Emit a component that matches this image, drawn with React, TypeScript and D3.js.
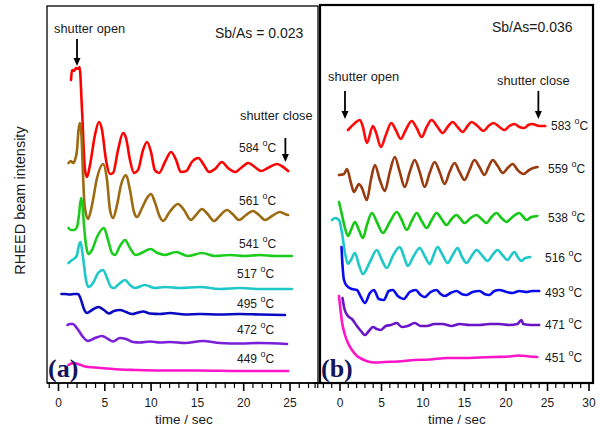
import React from 'react';
import * as d3 from 'd3';

type P = [number, number];

// ---------- tick labels ----------
const leftTickLabels = [0, 5, 10, 15, 20, 25];
const rightTickLabels = [0, 5, 10, 15, 20, 25, 30];

// ---------- panel (a): Sb/As = 0.023 ----------
const tempsA = ['584', '561', '541', '517', '495', '472', '449'];
const a584: P[] = [[1.35,303],[1.46,313],[1.67,312],[1.89,315],[2.11,314],[2.27,316],[2.54,273],[2.86,213],[3.08,206],[3.4,218],[3.94,248],[4.37,261],[4.7,253],[5.13,223],[5.56,209],[5.89,210],[6.43,233],[6.97,250],[7.29,245],[7.72,223],[8.15,210],[8.59,213],[9.13,233],[9.56,241],[9.99,231],[10.4,213],[10.85,210],[11.5,221],[12.15,231],[12.7,223],[13.2,211],[13.8,212],[14.4,221],[15.1,225],[15.7,218],[16.25,211],[16.9,214],[17.65,221],[18.3,215],[19.1,211],[19.7,215],[20.5,220],[21.2,216],[21.9,212],[22.6,215],[23.6,219],[24.1,217],[24.8,212]];
const a561: P[] = [[1.08,220],[1.35,222],[1.57,220],[1.78,223],[2.0,233],[2.16,253],[2.32,260],[2.48,248],[2.65,208],[2.81,178],[3.19,164],[3.62,178],[4.16,205],[4.81,219],[5.24,203],[5.56,173],[5.89,165],[6.32,178],[6.75,198],[7.29,208],[7.72,193],[8.15,171],[8.48,166],[9.02,175],[9.56,185],[9.99,189],[10.4,181],[10.95,166],[11.3,162],[12.0,171],[12.9,179],[13.55,173],[14.3,163],[14.85,168],[15.5,174],[16.1,169],[16.8,162],[17.4,167],[18.2,173],[18.8,169],[19.5,163],[20.25,168],[21.0,172],[21.65,168],[22.3,163],[23.05,167],[23.9,171],[24.45,169],[24.8,168]];
const a541: P[] = [[1.08,155],[1.35,153],[1.67,153],[2.0,156],[2.21,168],[2.43,185],[2.59,178],[2.75,158],[2.97,138],[3.24,129],[3.62,133],[4.16,146],[4.91,155],[5.35,143],[5.78,130],[6.1,128],[6.64,137],[7.18,143],[7.72,135],[8.32,128],[8.97,130],[9.94,134],[10.7,130],[11.45,128],[12.7,131],[13.98,127],[15.5,130],[16.9,127],[18.5,128],[20.1,127],[21.75,128],[23.4,127],[25.2,127]];
const a517: P[] = [[1.08,120],[1.46,123],[1.78,125],[2.0,128],[2.21,138],[2.38,141],[2.54,133],[2.75,118],[2.97,103],[3.24,96],[3.73,100],[4.27,110],[4.81,113],[5.24,105],[5.67,96],[5.99,95],[6.53,99],[7.18,103],[7.72,98],[8.26,95],[9.34,98],[10.4,95],[11.5,96],[13.1,95],[15.3,96],[17.4,94],[19.6,95],[21.8,94],[25.2,94]];
const a495: P[] = [[0.32,89],[0.7,89],[1.24,88.5],[1.67,89],[2.11,89],[2.32,86],[2.54,80],[2.75,74],[3.08,70],[3.62,73],[4.32,76],[4.91,73],[5.45,69.5],[5.99,72],[6.64,73],[7.29,71],[7.94,69],[8.59,70.5],[9.13,71.5],[9.88,69.5],[10.96,69],[12.04,70],[13.66,68.5],[15.28,69],[17.44,68.5],[19.6,69],[21.76,68.5],[24.46,68]];
const a472: P[] = [[0.97,58],[1.24,59],[1.57,59],[1.89,56],[2.21,52],[2.65,46],[3.19,42],[3.94,45],[4.7,47],[5.35,44],[5.89,41.5],[6.64,45],[7.29,44],[8.05,41],[8.8,40.5],[9.88,41.5],[10.96,40.5],[12.04,41],[13.66,40],[15.6,42],[17.44,40],[19.6,39.5],[21.76,40],[24.68,39]];
const a449: P[] = [[1.08,18],[1.57,20],[2.11,19],[2.86,16.5],[3.94,15.5],[5.24,14.5],[6.64,13.5],[8.26,13],[10.96,12.5],[15.28,12.5],[19.6,12],[24.8,12]];

// ---------- panel (b): Sb/As = 0.036 ----------
const tempsB = ['583', '559', '538', '516', '493', '471', '451'];
const b583: P[] = [[0.96,253],[1.68,259],[2.4,263],[2.76,256],[3.24,240],[3.96,257],[4.32,251],[4.92,236],[5.52,248],[6.18,260],[6.72,253],[7.32,244],[7.92,253],[8.64,262],[9.24,255],[9.84,246],[10.44,256],[11.04,263],[11.76,256],[12.36,250],[12.96,256],[13.57,261],[14.17,256],[14.77,251],[15.37,257],[15.85,261],[16.57,257],[17.29,252],[17.89,257],[18.49,260],[19.21,256],[19.81,253],[20.41,257],[21.0,259],[21.6,256],[22.2,255],[22.69,258],[23.17,259],[24.0,257],[24.73,257]];
const b559: P[] = [[-0.12,208],[0.48,209],[0.84,214],[1.32,200],[1.68,191],[2.28,199],[2.64,195],[3.24,183],[3.72,203],[4.2,218],[4.8,203],[5.4,192],[6.0,211],[6.6,226],[7.2,211],[7.8,196],[8.4,211],[9.0,223],[9.6,211],[10.2,196],[10.8,210],[11.4,221],[12.0,211],[12.6,199],[13.2,211],[13.8,220],[14.4,211],[15.0,203],[15.6,213],[16.2,223],[16.8,216],[17.4,208],[17.9,216],[18.4,223],[19.0,217],[19.6,210],[20.2,215],[20.8,219],[21.4,213],[22.1,209],[22.8,213],[23.3,215],[23.8,216]];
const b538: P[] = [[-0.12,181],[0.24,168],[0.6,155],[0.96,147],[1.32,153],[1.8,161],[2.28,153],[2.76,145],[3.24,158],[3.84,170],[4.44,161],[5.16,150],[6.0,161],[6.84,171],[7.44,163],[8.04,153],[8.64,162],[9.24,170],[9.84,162],[10.44,155],[11.04,163],[11.64,170],[12.24,164],[12.84,158],[13.44,164],[14.04,168],[14.53,164],[15.0,160],[15.73,165],[16.45,168],[17.05,164],[17.65,160],[18.25,166],[18.85,170],[19.45,165],[20.05,161],[20.77,166],[21.6,170],[22.09,166],[22.45,163],[23.05,166],[23.77,167]];
const b516: P[] = [[-0.96,163],[-0.6,165],[-0.12,163],[0.24,150],[0.6,130],[0.96,119],[1.32,123],[1.8,130],[2.28,118],[2.76,109],[3.6,121],[4.44,133],[5.04,123],[5.64,115],[6.36,127],[7.2,136],[7.68,127],[8.16,117],[8.88,127],[9.6,135],[10.2,127],[10.8,119],[11.28,128],[11.76,136],[12.36,128],[12.96,120],[13.57,128],[14.17,135],[14.65,127],[15.25,120],[15.85,127],[16.45,133],[17.17,127],[17.77,122],[18.37,128],[18.97,133],[19.57,128],[20.17,123],[20.65,128],[21.0,131],[21.49,125],[21.85,122],[22.33,125],[22.93,126]];
const b493: P[] = [[0.18,136],[0.3,118],[0.48,103],[0.84,97],[1.44,94],[2.04,93],[2.52,86],[3.0,80],[3.6,90],[4.08,93],[4.68,84],[5.28,83],[5.88,92],[6.36,93],[6.96,87],[7.68,84],[8.4,91],[9.12,93],[9.72,88],[10.2,86],[10.92,91],[11.64,93],[12.12,89],[12.6,87],[13.32,90],[14.04,92],[14.65,89],[15.25,88],[15.97,91],[16.8,92],[17.4,89],[18.0,88],[18.6,92],[19.2,93],[20.05,91],[20.77,90],[21.6,92],[22.45,91],[23.17,92],[24.0,92]];
const b471: P[] = [[0.3,85],[0.54,74],[0.96,67],[1.44,64],[2.04,57],[2.52,52],[3.0,48],[3.48,52],[3.96,56],[4.44,54],[4.92,53],[5.52,57],[6.12,58],[6.84,60],[7.44,56],[8.16,57],[9.0,60],[9.72,57],[10.44,57],[11.4,59],[12.36,59],[13.44,57],[14.4,59],[15.6,58],[16.8,58],[18.0,59],[19.2,59],[20.4,58],[21.37,59],[21.85,63],[22.09,59],[23.05,58],[24.0,58]];
const b451: P[] = [[-0.12,87],[0.06,73],[0.24,61],[0.6,48],[0.96,40],[1.44,33],[2.04,27],[2.64,24],[3.36,21.5],[4.2,20.5],[5.4,21],[6.96,21.5],[9.0,23],[10.8,23.5],[12.96,25],[15.0,25],[16.8,25.5],[18.6,26],[20.4,26.5],[21.6,27.5],[22.8,26.5],[23.76,26]];

// shutter times (s)
const shutterA = { open: 2.0, close: 24.5 };
const shutterB = { open: 0.6, close: 23.9 };

// ---------- styles ----------
const colorsA = ['#ff0000', '#9c6a10', '#1ccc1c', '#1ec8c8', '#0a0ac0', '#7a1ed8', '#ff14c8'];
const colorsB = ['#ff0a0a', '#9a3a10', '#14c814', '#1ec8c8', '#0a0aee', '#6a14c8', '#ff14c8'];
const seriesA = [a584, a561, a541, a517, a495, a472, a449];
const seriesB = [b583, b559, b538, b516, b493, b471, b451];
const labelPosA: [number, number][] = [[239, 152], [239, 205], [239, 248], [237, 278], [237, 308], [237, 334], [237, 363]];
const labelPosB: [number, number][] = [[551, 130], [548, 173], [548, 222], [545, 262], [545, 297], [545, 329], [545, 362]];

const SANS = '"Liberation Sans", Arial, sans-serif';
const SERIF = '"Liberation Serif", "Times New Roman", serif';
const TXT = '#1a1a1a';

const yScale = d3.scaleLinear().domain([0, 377]).range([383, 6]);

function Arrow({ x, y1, y2 }: { x: number; y1: number; y2: number }) {
  return (
    <g>
      <line x1={x} x2={x} y1={y1} y2={y2 - 7} stroke="#000" strokeWidth={1.8} />
      <path d={`M${x - 3.5},${y2 - 8} L${x + 3.5},${y2 - 8} L${x},${y2} Z`} fill="#000" />
    </g>
  );
}

function Temp({ x, y, t }: { x: number; y: number; t: string }) {
  return (
    <text x={x} y={y} fontFamily={SANS} fontSize={12} fill={TXT}>
      {t}
      <tspan dx={3.5} dy={-6} fontSize={9}>o</tspan>
      <tspan dy={6} fontSize={12}>C</tspan>
    </text>
  );
}

function Panel({
  xs, series, colors, temps, labelPos, tickLabels, minorFrom, minorTo,
  frame, frameW, axisX0, axisX1,
}: any) {
  const line = d3
    .line<P>()
    .x((d) => xs(d[0]))
    .y((d) => yScale(d[1]))
    .curve(d3.curveMonotoneX);
  const minors = d3.range(minorFrom, minorTo + 1);
  return (
    <g>
      {series.map((s: P[], i: number) => (
        <path key={i} d={line(s) || ''} fill="none" stroke={colors[i]} strokeWidth={2.6}
          strokeLinejoin="round" strokeLinecap="round" />
      ))}
      {temps.map((t: string, i: number) => (
        <Temp key={t} x={labelPos[i][0]} y={labelPos[i][1]} t={t} />
      ))}
      <rect x={frame[0]} y={frame[1]} width={frame[2] - frame[0]} height={frame[3] - frame[1]}
        fill="none" stroke="#000" strokeWidth={frameW} />
      <line x1={axisX0} x2={axisX1} y1={383} y2={383} stroke="#000" strokeWidth={1.6} />
      {minors.map((m: number) => {
        const major = m % 5 === 0;
        return (
          <line key={m} x1={xs(m)} x2={xs(m)} y1={383} y2={major ? 391 : 388}
            stroke="#000" strokeWidth={major ? 1.6 : 1.2} />
        );
      })}
      {tickLabels.map((v: number) => (
        <text key={v} x={xs(v)} y={407} textAnchor="middle" fontFamily={SANS} fontSize={12} fill={TXT}>
          {v}
        </text>
      ))}
    </g>
  );
}

export default function App() {
  const xA = d3.scaleLinear().domain([0, 25]).range([58.5, 290]);
  const xB = d3.scaleLinear().domain([0, 30]).range([340, 589]);
  return (
    <svg width={599} height={427} style={{ position: 'absolute', left: 0, top: 0, background: '#fff' }}>
      <rect width={599} height={427} fill="#fff" />
      <Panel xs={xA} series={seriesA} colors={colorsA} temps={tempsA} labelPos={labelPosA}
        tickLabels={leftTickLabels} minorFrom={-1} minorTo={28} frame={[47, 6, 318, 383]} frameW={1.3}
        axisX0={47} axisX1={318} />
      <Panel xs={xB} series={seriesB} colors={colorsB} temps={tempsB} labelPos={labelPosB}
        tickLabels={rightTickLabels} minorFrom={-3} minorTo={30} frame={[320, 5, 593, 383]} frameW={2.2}
        axisX0={313} axisX1={593} />

      {/* annotations panel (a) */}
      <text x={54} y={33} fontFamily={SANS} fontSize={12.8} fill={TXT}>shutter open</text>
      <Arrow x={xA(shutterA.open)} y1={39} y2={66} />
      <text x={215} y={38} fontFamily={SANS} fontSize={14} fill={TXT}>Sb/As = 0.023</text>
      <text x={240} y={120} fontFamily={SANS} fontSize={12.8} fill={TXT}>shutter close</text>
      <Arrow x={xA(shutterA.close)} y1={138} y2={162} />
      <text x={48} y={377} fontFamily={SERIF} fontWeight="bold" fontSize={26} fill="#15155e">(a)</text>

      {/* annotations panel (b) */}
      <text x={328} y={81} fontFamily={SANS} fontSize={12.8} fill={TXT}>shutter open</text>
      <Arrow x={xB(shutterB.open)} y1={91} y2={119} />
      <text x={492} y={32} fontFamily={SANS} fontSize={14} fill={TXT}>Sb/As=0.036</text>
      <text x={497} y={85} fontFamily={SANS} fontSize={12.8} fill={TXT}>shutter close</text>
      <Arrow x={xB(shutterB.close)} y1={91} y2={119} />
      <text x={321} y={377} fontFamily={SERIF} fontWeight="bold" fontSize={26} fill="#15155e">(b)</text>

      {/* axis titles */}
      <text transform="translate(25,200.5) rotate(-90)" textAnchor="middle" fontFamily={SANS}
        fontSize={14.5} fill={TXT}>RHEED beam intensity</text>
      <text x={184} y={424} textAnchor="middle" fontFamily={SANS} fontSize={13.5} fill={TXT}>time / sec</text>
      <text x={457} y={424} textAnchor="middle" fontFamily={SANS} fontSize={13.5} fill={TXT}>time / sec</text>
    </svg>
  );
}
